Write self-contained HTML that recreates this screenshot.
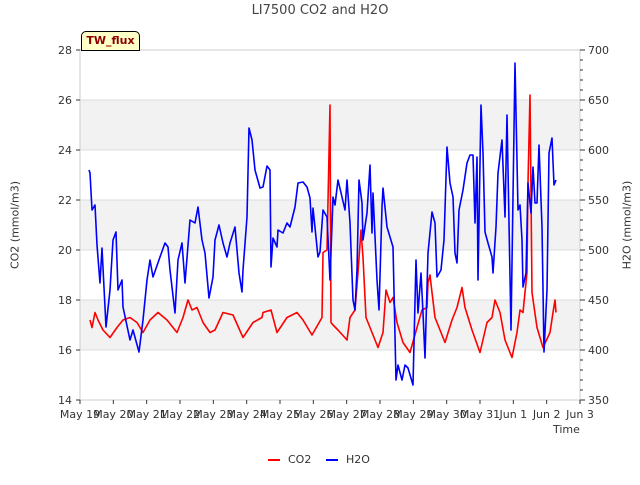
<!DOCTYPE html>
<html><head><meta charset="utf-8"><style>
body{margin:0;background:#fff;font-family:"Liberation Sans","DejaVu Sans",sans-serif;}
svg text{font-family:"DejaVu Sans","Liberation Sans",sans-serif;}
</style></head><body>
<svg id="chart" width="640" height="480" viewBox="0 0 640 480" xmlns="http://www.w3.org/2000/svg">
<g id="bg"></g>
<g id="marks"></g>
<g id="axes"></g>
</svg>
<script>
const xTickLabels=["May 19","May 20","May 21","May 22","May 23","May 24","May 25","May 26","May 27","May 28","May 29","May 30","May 31","Jun 1","Jun 2","Jun 3"];
const co2Ticks=[14,16,18,20,22,24,26,28];
const h2oTicks=[350,400,450,500,550,600,650,700];
const co2Days=[0.30,0.36,0.45,0.54,0.69,0.90,1.11,1.29,1.50,1.71,1.89,2.10,2.34,2.61,2.91,3.09,3.24,3.36,3.51,3.69,3.90,4.05,4.29,4.59,4.89,5.19,5.46,5.49,5.73,5.91,6.21,6.51,6.69,6.96,7.26,7.29,7.41,7.50,7.53,7.59,7.74,8.01,8.10,8.25,8.34,8.43,8.49,8.58,8.70,8.94,9.09,9.18,9.30,9.39,9.51,9.69,9.90,10.11,10.26,10.41,10.44,10.50,10.56,10.65,10.95,11.16,11.31,11.46,11.55,11.76,12.00,12.21,12.36,12.45,12.60,12.75,12.96,13.11,13.20,13.29,13.41,13.44,13.50,13.56,13.71,13.89,14.10,14.19,14.25,14.28];
const co2Vals=[17.2,16.9,17.5,17.2,16.8,16.5,16.9,17.2,17.3,17.1,16.7,17.2,17.5,17.2,16.7,17.3,18.0,17.6,17.7,17.1,16.7,16.8,17.5,17.4,16.5,17.1,17.3,17.5,17.6,16.7,17.3,17.5,17.2,16.6,17.3,19.9,20.0,25.8,17.1,17.0,16.8,16.4,17.3,17.6,19.1,20.8,19.7,17.3,16.9,16.1,16.7,18.4,17.9,18.1,17.1,16.3,15.9,16.9,17.6,17.7,18.7,19.0,18.3,17.3,16.3,17.2,17.7,18.5,17.7,16.8,15.9,17.1,17.3,18.0,17.5,16.4,15.7,16.7,17.6,17.5,19.1,22.7,26.2,18.3,16.9,16.1,16.7,17.5,18.0,17.5];
const h2oDays=[0.27,0.30,0.36,0.45,0.51,0.60,0.66,0.78,0.90,0.99,1.08,1.14,1.26,1.29,1.50,1.59,1.77,1.89,2.01,2.10,2.19,2.40,2.55,2.64,2.70,2.85,2.94,3.06,3.15,3.30,3.45,3.54,3.66,3.75,3.87,3.99,4.05,4.17,4.29,4.41,4.50,4.65,4.77,4.86,4.89,5.01,5.07,5.16,5.25,5.40,5.49,5.61,5.70,5.73,5.79,5.91,5.94,6.09,6.21,6.30,6.45,6.54,6.69,6.81,6.90,6.96,6.99,7.14,7.20,7.29,7.41,7.50,7.59,7.65,7.74,7.86,7.95,8.01,8.10,8.19,8.25,8.31,8.37,8.46,8.49,8.61,8.70,8.76,8.79,8.91,8.97,9.06,9.09,9.21,9.30,9.39,9.48,9.54,9.66,9.75,9.84,9.99,10.08,10.14,10.23,10.29,10.35,10.44,10.56,10.65,10.71,10.83,10.92,11.01,11.10,11.19,11.25,11.31,11.37,11.49,11.61,11.70,11.79,11.85,11.91,11.94,12.03,12.09,12.15,12.24,12.36,12.39,12.48,12.54,12.66,12.75,12.81,12.87,12.93,13.05,13.14,13.20,13.26,13.29,13.38,13.44,13.53,13.59,13.65,13.71,13.77,13.86,13.92,14.01,14.07,14.16,14.22,14.28];
const h2oVals=[580,577,540,545,505,467,502,423,460,510,518,460,470,443,410,420,398,430,470,490,473,493,507,503,480,437,490,507,467,530,527,543,510,497,452,473,510,525,507,493,507,523,477,458,480,533,622,610,580,562,563,584,580,483,512,503,520,517,527,523,543,567,568,563,552,518,542,493,498,540,533,470,553,545,570,553,540,570,527,450,440,480,570,547,510,537,585,517,557,470,440,543,562,523,513,503,370,385,370,385,382,365,490,437,477,437,392,497,538,527,473,480,510,603,567,553,497,487,540,560,587,595,595,527,593,470,645,597,518,507,493,477,523,577,610,533,635,527,420,687,540,545,510,463,477,567,537,583,547,547,605,523,398,460,597,612,565,570];

const NS="http://www.w3.org/2000/svg";
const L=80,R=580,T=50,B=400;
const xS=d=>L+d*(R-L)/15;
const yC=v=>B-(v-14)*(B-T)/14;
const yH=v=>B-(v-350)*(B-T)/350;
function mk(tag,attrs,parent,text){const e=document.createElementNS(NS,tag);for(const k in attrs)e.setAttribute(k,attrs[k]);if(text!==undefined)e.textContent=text;parent.appendChild(e);return e;}
const bg=document.getElementById('bg'),marks=document.getElementById('marks'),axes=document.getElementById('axes');
// bands
[[16,18],[20,22],[24,26]].forEach(b=>{const r=mk('rect',{x:L,y:yC(b[1]),width:R-L,height:yC(b[0])-yC(b[1]),fill:'#f2f2f2'},bg);

});
co2Ticks.forEach(v=>{const g=mk('line',{x1:L,x2:R,y1:yC(v),y2:yC(v),stroke:'#dcdcdc','stroke-width':1},bg);

});
function line(days,vals,ys,col,name){const p=days.map((d,i)=>xS(d).toFixed(1)+','+ys(vals[i]).toFixed(1)).join(' ');
const e=mk('polyline',{points:p,fill:'none',stroke:col,'stroke-width':1.6,'stroke-linejoin':'round'},marks);

}
line(co2Days,co2Vals,yC,'#ff0000','co2-line');
line(h2oDays,h2oVals,yH,'#0000ff','h2o-line');
// frame
const f=mk('rect',{x:L,y:T,width:R-L,height:B-T,fill:'none',stroke:'#cccccc'},axes);


xTickLabels.forEach((t,i)=>{mk('line',{x1:xS(i),x2:xS(i),y1:B,y2:B+4,stroke:'#333'},axes);
const e=mk('text',{x:xS(i),y:B+18,'text-anchor':'middle','font-size':11,fill:'#333'},axes,t);

});
co2Ticks.forEach(v=>{mk('line',{x1:L-4,x2:L,y1:yC(v),y2:yC(v),stroke:'#333'},axes);
const e=mk('text',{x:L-8,y:yC(v)+4,'text-anchor':'end','font-size':11,fill:'#333'},axes,v);

});
for(let v=350;v<=700;v+=10){const maj=v%50===0;mk('line',{x1:R,x2:R+(maj?5:3),y1:yH(v),y2:yH(v),stroke:'#333'},axes);}
h2oTicks.forEach(v=>{const e=mk('text',{x:R+8,y:yH(v)+4,'font-size':11,fill:'#333'},axes,v);

});
</script>
<div style="position:absolute;left:0;top:0;width:640px;height:480px;pointer-events:none;font-family:'DejaVu Sans','Liberation Sans',sans-serif;">
<div style="position:absolute;top:3px;width:640px;text-align:center;font-size:13px;color:#444;">LI7500 CO2 and H2O</div>
<div style="position:absolute;left:81px;top:31px;width:57px;height:18px;background:#ffffc8;border:1px solid #000;border-radius:5px 5px 0 0;font-size:11px;font-weight:bold;color:#8b0000;text-align:center;line-height:18px;">TW_flux</div>
<div style="position:absolute;left:553px;top:423px;font-size:11px;color:#333;">Time</div>
<div style="position:absolute;left:15px;top:225px;width:0;height:0;"><div style="position:absolute;transform:translate(-50%,-50%) rotate(-90deg);white-space:nowrap;font-size:11px;color:#333;">CO2 (mmol/m3)</div></div>
<div style="position:absolute;left:627px;top:225px;width:0;height:0;"><div style="position:absolute;transform:translate(-50%,-50%) rotate(-90deg);white-space:nowrap;font-size:11px;color:#333;">H2O (mmol/m3)</div></div>
<div style="position:absolute;left:268px;top:453px;font-size:11px;color:#333;">
<span style="position:absolute;left:0;top:0;white-space:nowrap;"><span style="display:inline-block;width:12px;height:2px;background:#f00;vertical-align:middle;margin-right:8px;"></span>CO2</span>
<span style="position:absolute;left:58px;top:0;white-space:nowrap;"><span style="display:inline-block;width:12px;height:2px;background:#00f;vertical-align:middle;margin-right:8px;"></span>H2O</span>
</div>
</div>
</body></html>
